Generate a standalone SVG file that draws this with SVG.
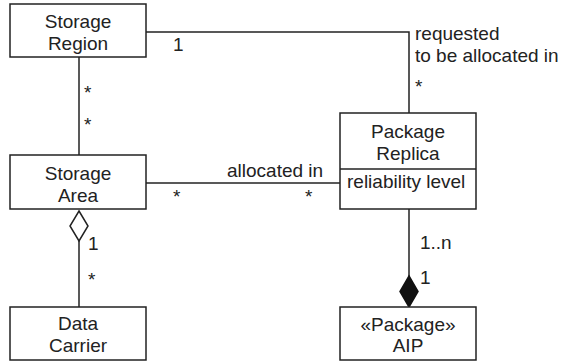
<svg xmlns="http://www.w3.org/2000/svg" width="565" height="361" viewBox="0 0 565 361">
<style>
.box{fill:#fff;stroke:#222;stroke-width:1.5}
.ln{fill:none;stroke:#222;stroke-width:1.5}
text{font-family:"Liberation Sans",Arial,sans-serif;font-size:19px;fill:#222}
.c{text-anchor:middle}
</style>
<rect width="565" height="361" fill="#fff"/>
<g id="connectors">
<polyline class="ln" points="146,32 409,32 409,113"/>
<line class="ln" x1="79" y1="57" x2="79" y2="155"/>
<line class="ln" x1="146" y1="183" x2="340" y2="183"/>
<line class="ln" x1="79" y1="241" x2="79" y2="307"/>
<polygon points="79,211 88,226 79,241 70,226" fill="#fff" stroke="#222" stroke-width="1.5"/>
<line class="ln" x1="409" y1="209" x2="409" y2="276"/>
<polygon points="409,276 418,291.5 409,307 400,291.5" fill="#111" stroke="#111" stroke-width="1.5"/>
<text x="173" y="51">1</text>
<text x="415" y="40">requested</text>
<text x="415" y="62">to be allocated in</text>
<text x="415" y="93">*</text>
<text x="84" y="99">*</text>
<text x="84" y="131">*</text>
<text x="227" y="177">allocated in</text>
<text x="173" y="203">*</text>
<text x="305" y="203">*</text>
<text x="88" y="250">1</text>
<text x="88" y="286">*</text>
<text x="420" y="249">1..n</text>
<text x="420" y="284">1</text>
</g>
<g id="storage-region">
<rect class="box" x="10" y="4" width="136" height="53"/>
<text class="c" x="78" y="28">Storage</text>
<text class="c" x="78" y="50">Region</text>
</g>
<g id="storage-area">
<rect class="box" x="10" y="155" width="136" height="54"/>
<text class="c" x="78" y="180">Storage</text>
<text class="c" x="78" y="202">Area</text>
</g>
<g id="data-carrier">
<rect class="box" x="10" y="307" width="136" height="53"/>
<text class="c" x="78" y="330">Data</text>
<text class="c" x="78" y="352">Carrier</text>
</g>
<g id="package-replica">
<rect class="box" x="340" y="113" width="136" height="96"/>
<line class="ln" x1="340" y1="169" x2="476" y2="169"/>
<text class="c" x="408" y="138">Package</text>
<text class="c" x="408" y="160">Replica</text>
<text x="347" y="188">reliability level</text>
</g>
<g id="aip">
<rect class="box" x="340" y="307" width="136" height="53"/>
<text class="c" x="408" y="331">«Package»</text>
<text class="c" x="408" y="352">AIP</text>
</g>
</svg>
